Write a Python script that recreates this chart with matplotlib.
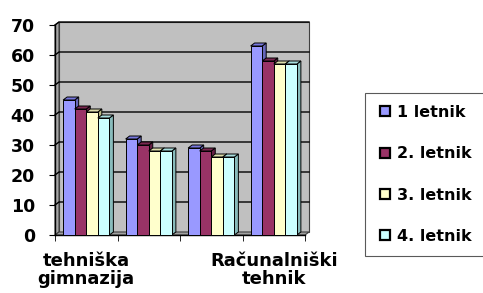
import matplotlib

matplotlib.use("Agg")
import matplotlib.pyplot as plt  # noqa: E402
from matplotlib.lines import Line2D  # noqa: E402
from matplotlib.patches import Polygon, Rectangle  # noqa: E402

plt.rcParams["font.family"] = ["DejaVu Sans"]
plt.rcParams["font.weight"] = "bold"

categories = ["tehniška\ngimnazija", "", "", "Računalniški\ntehnik"]
series = ["1 letnik", "2. letnik", "3. letnik", "4. letnik"]
values = [
    [45, 32, 29, 63],
    [42, 30, 28, 58],
    [41, 28, 26, 57],
    [39, 28, 26, 57],
]
colors = ["#9999FF", "#993366", "#FFFFCC", "#CCFFFF"]
side_colors = ["#6666BB", "#661F44", "#BBBB88", "#88BBBB"]
top_colors = ["#7777DD", "#7A2850", "#DDDDAA", "#A8DDDD"]
yticks = [0, 10, 20, 30, 40, 50, 60, 70]

W, H, DPI = 483, 293, 100
fig = plt.figure(figsize=(W / DPI, H / DPI), dpi=DPI)
x0, x1, y0, y1 = 55, 305, 235, 25  # pixel frame of the front plane
ax = fig.add_axes([x0 / W, 1 - y0 / H, (x1 - x0) / W, (y0 - y1) / H])
ax.set_xlim(0, 4)
ax.set_ylim(0, 70)
ax.patch.set_visible(False)

# depth offset of the 3D look, in data units (4 px right, 3 px up)
ddx = 4 / (x1 - x0) * 4
ddy = 3 / (y0 - y1) * 70
wall = "#C0C0C0"
k = dict(clip_on=False, lw=0.8, ec="#404040")
ax.add_patch(Rectangle((ddx, ddy), 4, 70, fc=wall, zorder=0, **k))
ax.add_patch(Polygon([(0, 0), (ddx, ddy), (ddx, 70 + ddy), (0, 70)], fc="#A6A6A6", zorder=0, **k))
ax.add_patch(Polygon([(0, 0), (4, 0), (4 + ddx, ddy), (ddx, ddy)], fc="#A0A0A0", zorder=0, **k))
for v in yticks[1:]:
    ax.plot([0, ddx, 4 + ddx], [v, v + ddy, v + ddy], color="black", lw=1, zorder=1, clip_on=False)

bw = 0.185
for s, (vals, c, sc, tc) in enumerate(zip(values, colors, side_colors, top_colors)):
    for i, v in enumerate(vals):
        left = i + 0.13 + s * bw
        right = left + bw
        kw = dict(clip_on=False, ec="black", lw=0.7, zorder=3 + s)
        ax.add_patch(Polygon([(right, 0), (right + ddx, ddy), (right + ddx, v + ddy), (right, v)], fc=sc, **kw))
        ax.add_patch(Polygon([(left, v), (right, v), (right + ddx, v + ddy), (left + ddx, v + ddy)], fc=tc, **kw))
        ax.add_patch(Rectangle((left, 0), bw, v, fc=c, **kw))

for sp in ["top", "right"]:
    ax.spines[sp].set_visible(False)
ax.spines["left"].set_linewidth(1)
ax.spines["bottom"].set_linewidth(1)
ax.set_yticks(yticks)
ax.set_yticklabels([str(v) for v in yticks], fontweight="bold", fontsize=12.5)
ax.set_xticks([i + 0.5 for i in range(4)])
ax.set_xticklabels(categories, fontweight="bold", fontsize=13, linespacing=1.0,
                   multialignment="center", ha="center")
ax.set_xticks([0, 1, 2, 3, 4], minor=True)
ax.tick_params(axis="x", which="major", length=0, pad=12)
ax.tick_params(axis="x", which="minor", length=4, direction="out")
ax.tick_params(axis="y", length=4, direction="out", pad=10.5)

handles = [Line2D([], [], ls="none", marker="s", ms=7, mfc=c, mec="black", mew=1.6) for c in colors]
leg = fig.legend(handles, series, loc="upper left", bbox_to_anchor=(365 / W, 1 - 93 / H),
                 frameon=True, fancybox=False, edgecolor="#303030",
                 prop={"weight": "bold", "size": 11.5},
                 handlelength=1.0, handletextpad=0.25, labelspacing=1.65,
                 borderpad=0.75, borderaxespad=0)
leg.get_frame().set_linewidth(0.8)

fig.savefig("out.png", dpi=DPI)
